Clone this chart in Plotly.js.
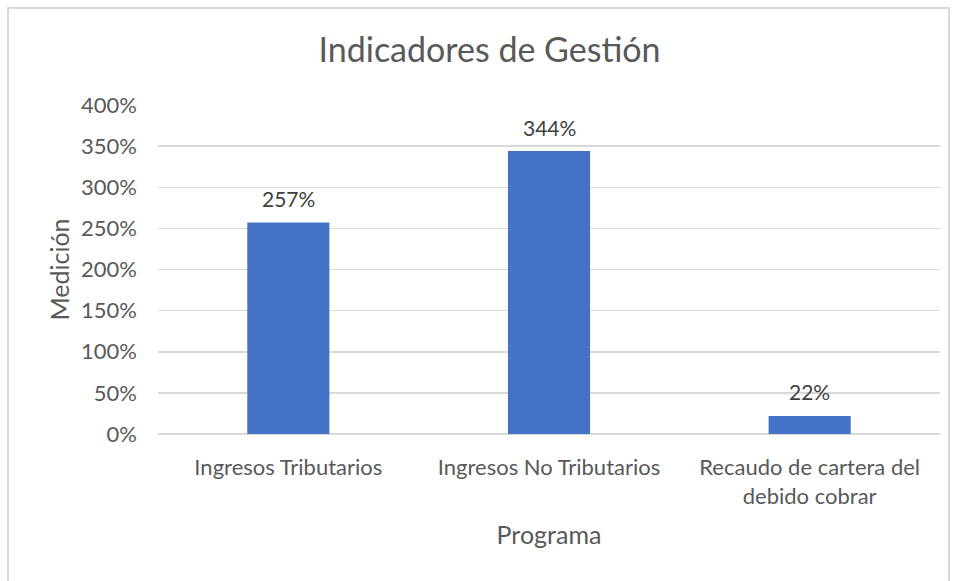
<!DOCTYPE html>
<html>
<head>
<meta charset="utf-8">
<script src="https://cdn.plot.ly/plotly-3.0.1.min.js"></script>
<style>
html,body{margin:0;padding:0;background:#fff;}
#frame{position:absolute;left:7px;top:7px;width:943px;height:590px;border:2px solid #d9d9d9;box-sizing:border-box;}
#chart{position:absolute;left:0;top:0;width:958px;height:581px;}
</style>
</head>
<body>
<div id="frame"></div>
<div id="chart"></div>
<script>
const categories = ["Ingresos Tributarios", "Ingresos No Tributarios", "Recaudo de cartera del<br>debido cobrar"];
const values = [2.57, 3.44, 0.22];
const labels = ["257%", "344%", "22%"];
const yTicks = [0, 0.5, 1, 1.5, 2, 2.5, 3, 3.5, 4];
const yTickText = ["0%", "50%", "100%", "150%", "200%", "250%", "300%", "350%", "400%"];

const fontFam = "Lato, 'Open Sans', sans-serif";
const annotations = categories.map((c, i) => ({
  x: c, y: values[i], xref: "x", yref: "y",
  text: labels[i], showarrow: false,
  yanchor: "middle", yshift: 24,
  font: {family: fontFam, size: 21, color: "#404040"}
}));

Plotly.newPlot("chart", [{
  type: "bar",
  x: categories,
  y: values,
  marker: {color: "#4472C4"},
  width: 0.315,
  hoverinfo: "none"
}], {
  width: 958, height: 581,
  margin: {l: 158, r: 18, t: 105, b: 147},
  paper_bgcolor: "rgba(0,0,0,0)",
  plot_bgcolor: "rgba(0,0,0,0)",
  showlegend: false,
  annotations: annotations,
  title: {text: "Indicadores de Gestión", font: {family: fontFam, size: 34, color: "#595959"}, x: 0.511, xref: "container", xanchor: "center", y: 0.913, yref: "container", yanchor: "middle"},
  xaxis: {
    title: {text: "Programa", font: {family: fontFam, size: 25, color: "#595959"}, standoff: 18},
    tickfont: {family: fontFam, size: 22, color: "#595959"},
    ticklabelstandoff: 18,
    showgrid: false, zeroline: false, showline: false, ticks: "",
    fixedrange: true
  },
  yaxis: {
    title: {text: "Medición", font: {family: fontFam, size: 25, color: "#595959"}, standoff: 4},
    range: [0, 4],
    tickvals: yTicks, ticktext: yTickText,
    tickfont: {family: fontFam, size: 22, color: "#595959"},
    ticklabelstandoff: 20,
    showgrid: true, gridcolor: "#d9d9d9", gridwidth: 1.5,
    zeroline: true, zerolinecolor: "#d9d9d9", zerolinewidth: 1.5,
    showline: false, ticks: "", fixedrange: true
  }
}, {staticPlot: true});
</script>
</body>
</html>
